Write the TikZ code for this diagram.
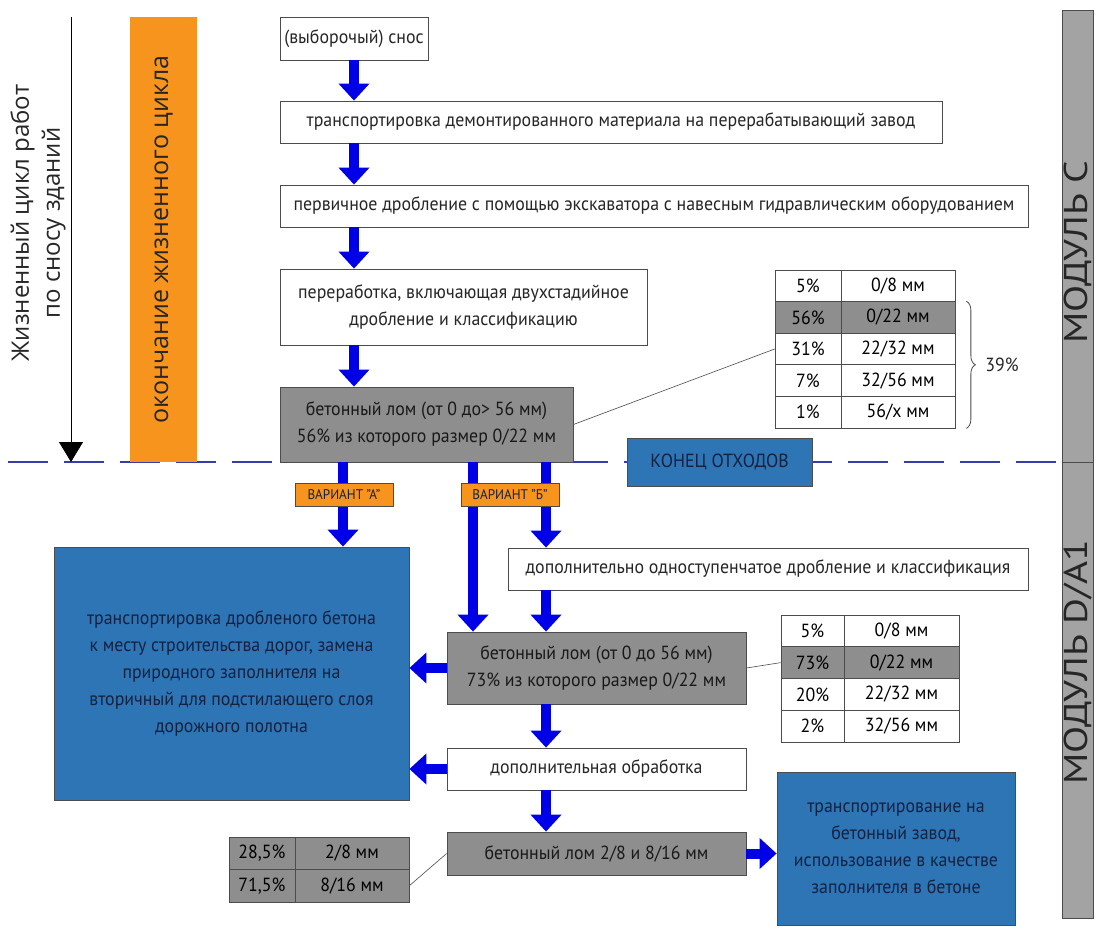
\documentclass[tikz,border=0pt]{standalone}
\usepackage{fontspec}
\setmainfont{PT Sans}[FakeStretch=0.94]
\newfontfamily\sidefont{Open Sans}
\newfontfamily\modfont{PT Sans}[FakeStretch=1.2]
\usetikzlibrary{arrows.meta,positioning,decorations.pathreplacing}

\definecolor{flowblue}{HTML}{0000E6}
\definecolor{lomgray}{HTML}{8E8E8E}
\definecolor{modgray}{HTML}{A3A3A3}
\definecolor{endblue}{HTML}{2E75B6}
\definecolor{navytext}{HTML}{15213F}
\definecolor{cycorange}{HTML}{F7941D}
\definecolor{cutblue}{HTML}{3A3AB0}

\tikzset{
  box/.style={draw=black!70, line width=0.8pt, align=center, inner sep=2pt, text=black!85,
    font=\fontsize{19}{27}\selectfont},
  wbox/.style={box, fill=white},
  lombox/.style={box, fill=lomgray, text=black!90},
  usebox/.style={box, fill=endblue, text=navytext},
  variant/.style={box, fill=cycorange, text=navytext, line width=0.6pt,
    font=\fontsize{14}{16}\selectfont, inner sep=1pt},
  cell/.style={draw=black!70, line width=0.7pt, inner sep=0pt, font=\fontsize{19}{22}\selectfont},
  flow/.style={draw=flowblue, line width=10pt, -{Triangle[width=30pt,length=17pt]}},
  leader/.style={draw=black!70, line width=0.6pt},
  cutline/.style={draw=cutblue, line width=1.3pt, dash pattern=on 40pt off 16pt},
  modbar/.style={draw=black!70, fill=modgray, rotate=90, minimum height=31pt, line width=0.7pt},
  modtext/.style={rotate=90, font=\modfont\fontsize{33}{35}\selectfont, text=black!85},
}

\begin{document}
\begin{tikzpicture}[x=1pt, y=-1pt]
\useasboundingbox[fill=white] (0,0) rectangle (1097,929);

% life cycle axis and boundary
\coordinate (lcTop) at (71,17);
\coordinate (lcEnd) at (71,462);
\coordinate (cutL) at (8,462);
\coordinate (cutR) at (1062,462);
\draw[cutline] (cutL) -- (cutR);
\draw[black, line width=0.8pt, -{Triangle[width=24pt,length=20pt]}] (lcTop) -- (lcEnd);
\node[rotate=90, align=center, font=\sidefont\fontsize{24}{31}\selectfont, text=black!85] (lcText) at (38,223)
  {Жизненный цикл работ\\по сносу зданий};
\node[fill=cycorange, rotate=90, minimum width=445pt, minimum height=67pt, text=black!85,
  font=\sidefont\fontsize{25}{28}\selectfont] (endCycle) at (163.5,239.5) {окончание жизненного цикла};

% modules
\node[modbar, minimum width=452pt] (modC) at (1077.5,236) {};
\node[modbar, minimum width=456pt] (modD) at (1077.5,690) {};
\node[modtext] (modCtext) at (1078,252) {МОДУЛЬ С};
\node[modtext] (modDtext) at (1078,662) {МОДУЛЬ D/A1};

% module C
\node[wbox, minimum width=148pt, minimum height=43pt] (snos) at (354,38.5) {(выборочый) снос};
\node[wbox, minimum width=662pt, minimum height=42pt] (trans) at (611,122)
  {транспортировка демонтированного материала на перерабатывающий завод};
\node[wbox, minimum width=748pt, minimum height=42pt] (perv) at (654,206)
  {первичное дробление с помощью экскаватора с навесным гидравлическим оборудованием};
\node[wbox, minimum width=367pt, minimum height=76pt] (pererab) at (463.5,307)
  {переработка, включающая двухстадийное\\дробление и классификацию};
\node[lombox, minimum width=293pt, minimum height=75pt] (lom1) at (426.5,424.5)
  {бетонный лом (от 0 до> 56 мм)\\56\% из которого размер 0/22 мм};
\node[usebox, minimum width=185pt, minimum height=48pt] (wasteEnd) at (719.5,462) {КОНЕЦ ОТХОДОВ};

\foreach \p/\s/\c [count=\i] in {{5\%}/{0/8 мм}/white, {56\%}/{0/22 мм}/lomgray,
    {31\%}/{22/32 мм}/white, {7\%}/{32/56 мм}/white, {1\%}/{56/x мм}/white}{
  \node[cell, fill=\c, minimum width=66pt, minimum height=31.6pt] (taP\i) at (808,254.2+31.6*\i) {\p};
  \node[cell, fill=\c, minimum width=114pt, minimum height=31.6pt] (taS\i) at (898,254.2+31.6*\i) {\s};
}
\draw[leader, line width=0.8pt, decorate, decoration={brace, amplitude=9pt}]
  ([xshift=11pt]taS2.north east) -- ([xshift=11pt]taS5.south east);
\node[font=\fontsize{19}{22}\selectfont, text=black!85] (share) at (1002,365) {39\%};
\draw[leader] (lom1.east) -- (taP3.west);

% module D/A1
\node[usebox, minimum width=355pt, minimum height=253pt] (roads) at (231.5,673.5)
  {транспортировка дробленого бетона\\к месту строительства дорог, замена\\природного заполнителя на\\вторичный для подстилающего слоя\\дорожного полотна};
\node[wbox, minimum width=520pt, minimum height=42pt] (dop) at (768,569)
  {дополнительно одноступенчатое дробление и классификация};
\node[lombox, minimum width=299pt, minimum height=72pt] (lom2) at (596.5,668)
  {бетонный лом (от 0 до 56 мм)\\73\% из которого размер 0/22 мм};
\node[wbox, minimum width=299pt, minimum height=42pt] (dopobr) at (596.5,769) {дополнительная обработка};
\node[lombox, minimum width=299pt, minimum height=43pt] (lom3) at (596.5,853.5) {бетонный лом 2/8 и 8/16 мм};
\node[usebox, minimum width=238pt, minimum height=153pt] (plant) at (896,848.5)
  {транспортирование на\\бетонный завод,\\использование в качестве\\заполнителя в бетоне};

\foreach \p/\s/\c [count=\i] in {{5\%}/{0/8 мм}/white, {73\%}/{0/22 мм}/lomgray,
    {20\%}/{22/32 мм}/white, {2\%}/{32/56 мм}/white}{
  \node[cell, fill=\c, minimum width=63pt, minimum height=31.75pt] (tbP\i) at (812.5,599.125+31.75*\i) {\p};
  \node[cell, fill=\c, minimum width=115pt, minimum height=31.75pt] (tbS\i) at (901.5,599.125+31.75*\i) {\s};
}
\foreach \p/\s [count=\i] in {{28,5\%}/{2/8 мм}, {71,5\%}/{8/16 мм}}{
  \node[cell, fill=lomgray, minimum width=66pt, minimum height=32.5pt] (tcP\i) at (262,820.75+32.5*\i) {\p};
  \node[cell, fill=lomgray, minimum width=114pt, minimum height=32.5pt] (tcS\i) at (352,820.75+32.5*\i) {\s};
}
\draw[leader] (lom2.east) -- (tbP2.west);
\draw[leader] (tcS2.east) -- (lom3.west);

% flow arrows
\draw[flow] (snos.south) -- (snos.south |- trans.north);
\draw[flow] (snos.south |- trans.south) -- (snos.south |- perv.north);
\draw[flow] (snos.south |- perv.south) -- (snos.south |- pererab.north);
\draw[flow] (snos.south |- pererab.south) -- (snos.south |- lom1.north);

\coordinate (xA) at (343,0);
\coordinate (xL) at (473,0);
\coordinate (xB) at (546,0);
\draw[flow] (xA |- lom1.south) -- (xA |- roads.north);
\draw[flow] (xL |- lom1.south) -- (xL |- lom2.north);
\draw[flow] (xB |- lom1.south) -- (xB |- dop.north);
\draw[flow] (xB |- dop.south) -- (xB |- lom2.north);
\draw[flow] (xB |- lom2.south) -- (xB |- dopobr.north);
\draw[flow] (xB |- dopobr.south) -- (xB |- lom3.north);
\draw[flow] (lom2.west) -- (lom2.west -| roads.east);
\draw[flow] (dopobr.west) -- (dopobr.west -| roads.east);
\draw[flow] (lom3.east) -- (lom3.east -| plant.west);

\node[variant, minimum width=98pt, minimum height=23pt] (varA) at (344,494.5) {ВАРИАНТ "А"};
\node[variant, minimum width=98pt, minimum height=23pt] (varB) at (510,494.5) {ВАРИАНТ "Б"};
\end{tikzpicture}
\end{document}
